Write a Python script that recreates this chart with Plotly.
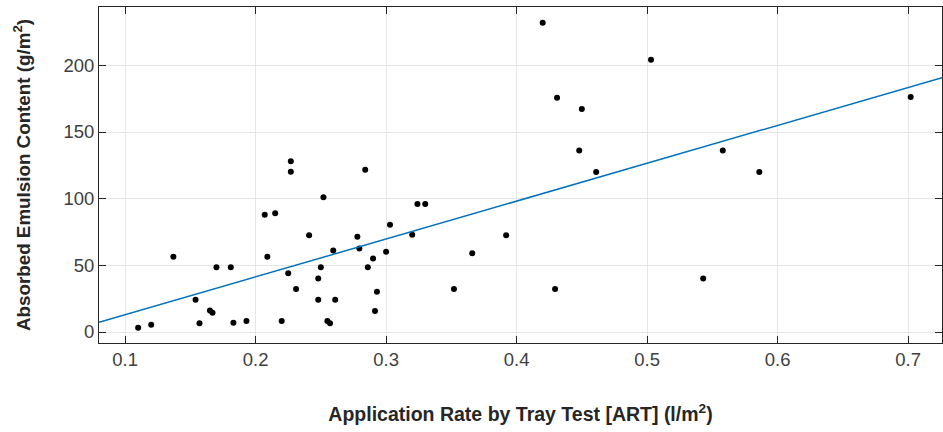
import numpy as np
import plotly.graph_objects as go

art = [0.110, 0.120, 0.137, 0.154, 0.157, 0.165, 0.167, 0.170, 0.181, 0.183,
       0.193, 0.207, 0.215, 0.209, 0.220, 0.225, 0.231, 0.241, 0.248, 0.248,
       0.250, 0.227, 0.227, 0.2595, 0.261, 0.255, 0.257, 0.278, 0.2795, 0.286,
       0.290, 0.293, 0.2915, 0.300, 0.303, 0.320, 0.324, 0.330, 0.352, 0.366,
       0.392, 0.4295, 0.252, 0.284, 0.420, 0.431, 0.450, 0.448, 0.461, 0.503,
       0.558, 0.586, 0.702, 0.543]
emulsion = [3.2, 5.5, 56.5, 24.2, 6.5, 16.2, 14.5, 48.5, 48.5, 7,
            8.2, 88, 89, 56.5, 8.2, 44, 32.2, 72.5, 40.2, 24.2,
            48.5, 128, 120.2, 61.2, 24.2, 8.2, 6.5, 71.5, 62.7, 48.5,
            55.2, 30.2, 15.7, 60.2, 80.5, 73, 96, 96, 32.2, 59,
            72.5, 32.2, 101, 121.7, 232, 175.7, 167.2, 136.2, 120, 204.2,
            136.2, 120, 176.2, 40.2]

x_range = [0.08, 0.726]
y_range = [-8.25, 243.75]
x_ticks = [0.1, 0.2, 0.3, 0.4, 0.5, 0.6, 0.7]
y_ticks = [0, 50, 100, 150, 200]

slope, intercept = np.polyfit(art, emulsion, 1)
fit_x = np.array(x_range)
fit_y = slope * fit_x + intercept

fig = go.Figure()
fig.add_trace(go.Scatter(x=art, y=emulsion, mode="markers",
                         marker=dict(color="black", size=6), showlegend=False))
fig.add_trace(go.Scatter(x=fit_x, y=fit_y, mode="lines",
                         line=dict(color="#0072BD", width=1.5), showlegend=False))

axis_common = dict(showgrid=True, gridcolor="#e6e6e6", gridwidth=1,
                   zeroline=False, showline=True, linecolor="#262626", linewidth=1,
                   mirror="ticks", ticks="inside", ticklen=7, tickcolor="#262626",
                   tickfont=dict(family="Liberation Sans, Arial", size=18.5, color="#404040"))

fig.update_xaxes(range=x_range, tickvals=x_ticks, ticktext=[str(t) for t in x_ticks],
                 title=dict(text="<b>Application Rate by Tray Test [ART] (l/m<sup>2</sup>)</b>",
                            font=dict(family="Liberation Sans, Arial", size=19.5, color="#262626"),
                            standoff=38),
                 **axis_common)
fig.update_yaxes(range=y_range, tickvals=y_ticks,
                 title=dict(text="<b>Absorbed Emulsion Content (g/m<sup>2</sup>)</b>",
                            font=dict(family="Liberation Sans, Arial", size=18.8, color="#262626"),
                            standoff=27),
                 **axis_common)

fig.update_layout(width=943, height=432, margin=dict(l=99, r=1, t=7, b=89),
                  plot_bgcolor="white", paper_bgcolor="white")

fig.write_html("out.html")
